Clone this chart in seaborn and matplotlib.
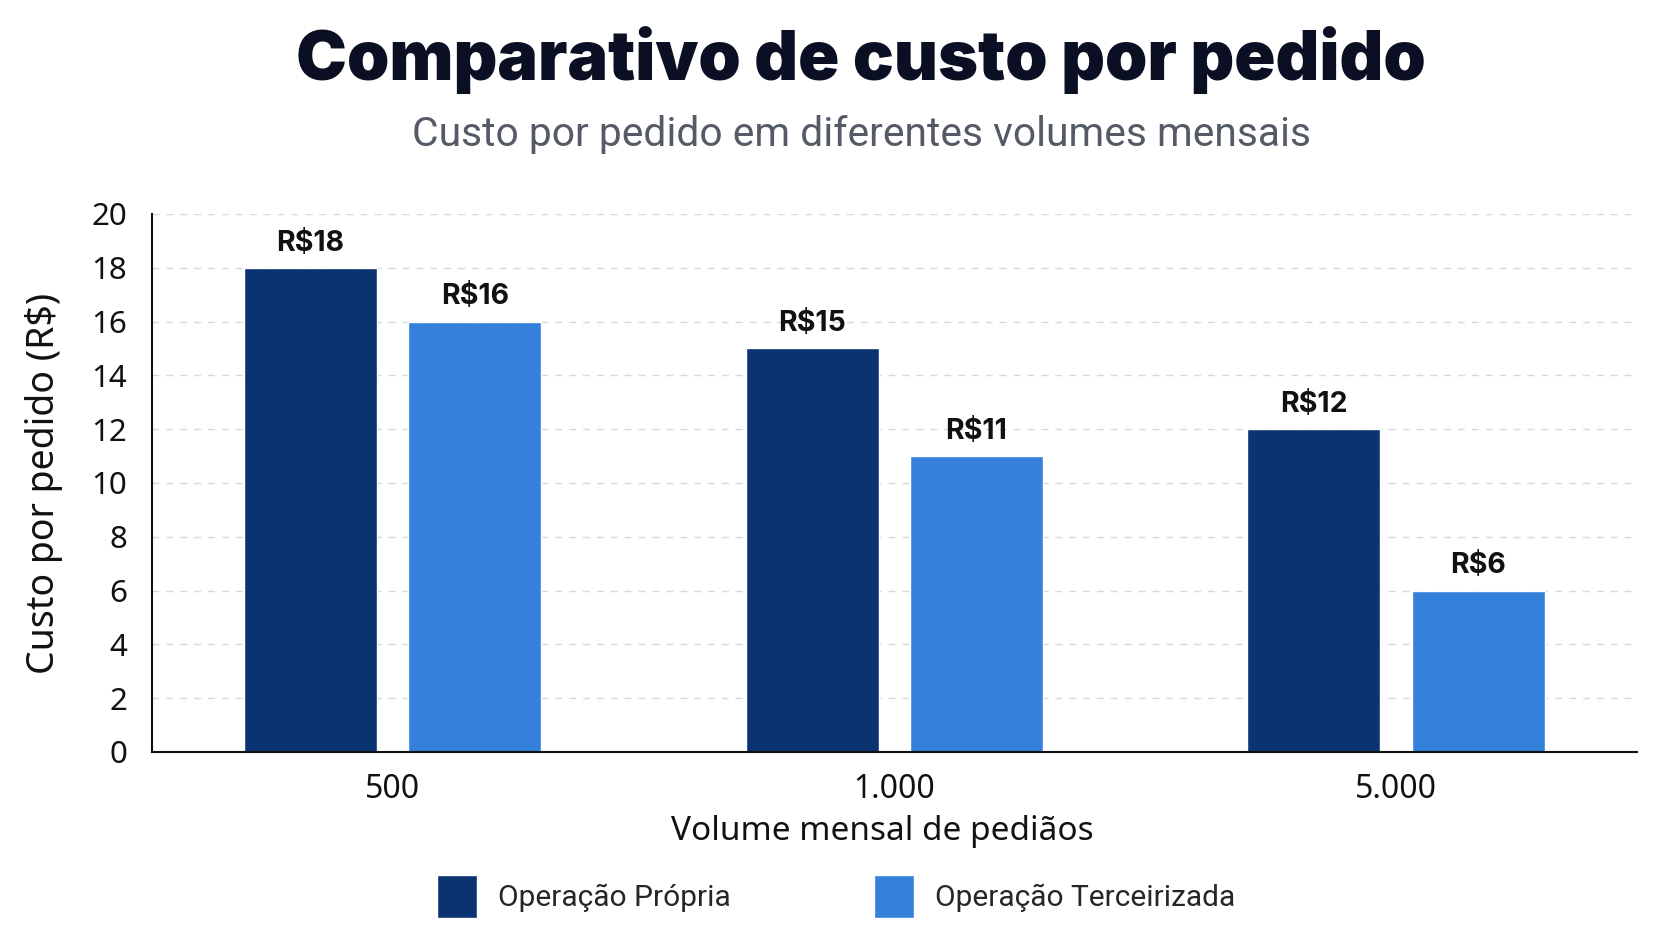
import matplotlib
matplotlib.use("Agg")
import matplotlib.pyplot as plt
import seaborn as sns
import pandas as pd

volumes = ["500", "1.000", "5.000"]
series = ["Operação Própria", "Operação Terceirizada"]
propria = [18, 15, 12]
terceirizada = [16, 11, 6]
colors = ["#0b3372", "#3580db"]

df = pd.DataFrame({
    "volume": volumes * 2,
    "serie": [series[0]] * 3 + [series[1]] * 3,
    "custo": propria + terceirizada,
})

sns.set_theme(style="white")
plt.rcParams["font.family"] = ["Inter", "DejaVu Sans"]

NS = ["Noto Sans", "DejaVu Sans"]

fig = plt.figure(figsize=(16.72, 9.41), dpi=100)
ax = fig.add_axes([0.0909, 0.2009, 0.888, 0.5717])

sns.barplot(data=df, x="volume", y="custo", hue="serie", order=volumes,
            hue_order=series, palette=colors, width=0.655, gap=0.19,
            saturation=1, ax=ax)

for cont in ax.containers:
    ax.bar_label(cont, labels=[f"R${v:g}" for v in cont.datavalues],
                 padding=8, fontsize=20.5, fontweight="bold", color="#111111",
                 family=["Inter", "DejaVu Sans"])

ax.set_ylim(0, 20)
ax.set_xlim(-0.48, 2.48)
ax.set_yticks(range(0, 21, 2))
ax.yaxis.grid(True, linestyle=(0, (5, 5)), color="#d9d9d9", linewidth=1)
ax.set_axisbelow(True)
for s in ["top", "right"]:
    ax.spines[s].set_visible(False)
for s in ["left", "bottom"]:
    ax.spines[s].set_color("#111111")
    ax.spines[s].set_linewidth(1.5)
ax.tick_params(axis="y", length=0, labelsize=22.5, colors="#111111", pad=18)
ax.tick_params(axis="x", length=0, labelsize=23, colors="#111111", pad=15)
for lab in ax.get_xticklabels() + ax.get_yticklabels():
    lab.set_family(NS)

ax.set_xlabel("Volume mensal de pediãos", fontsize=24, color="#111111", labelpad=10,
              family=NS)
ax.xaxis.set_label_coords(0.492, -0.118)
ax.set_ylabel("Custo por pedido (R$)", fontsize=27, color="#111111", labelpad=20,
              family=NS)

leg = ax.get_legend()
handles = leg.legend_handles
labels = [t.get_text() for t in leg.get_texts()]
leg.remove()
fig.legend(handles, labels, loc="center", bbox_to_anchor=(0.5, 0.047), ncol=2,
           frameon=False, handlelength=1.34, handleheight=1.85,
           columnspacing=4.8, handletextpad=0.7,
           prop={"family": ["Roboto", "DejaVu Sans"], "size": 21.5})

fig.text(0.515, 0.936, "Comparativo de custo por pedido", ha="center", va="center",
         fontsize=49, fontweight=900, color="#0a0f24")
fig.text(0.515, 0.857, "Custo por pedido em diferentes volumes mensais", ha="center",
         va="center", fontsize=29.3, color="#555b66", family=["Roboto", "DejaVu Sans"])

fig.savefig("out.png", dpi=100, facecolor="white")
